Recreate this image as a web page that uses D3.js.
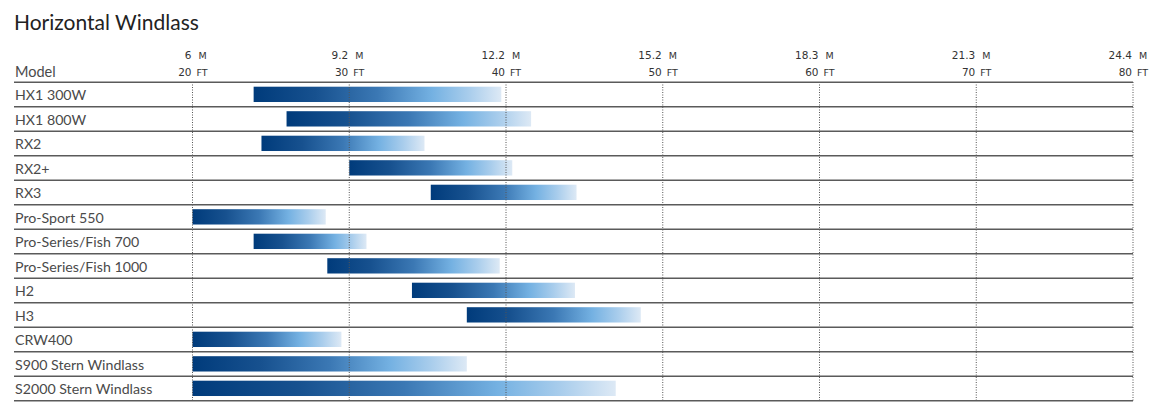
<!DOCTYPE html>
<html><head><meta charset="utf-8">
<script src="https://cdn.jsdelivr.net/npm/d3@7"></script>
<style>
html,body{margin:0;padding:0;background:#fff;}
svg{display:block;}
</style></head>
<body>
<script>
const title = "Horizontal Windlass";
const models = ["HX1 300W","HX1 800W","RX2","RX2+","RX3","Pro-Sport 550","Pro-Series/Fish 700","Pro-Series/Fish 1000","H2","H3","CRW400","S900 Stern Windlass","S2000 Stern Windlass"];
const rangeStartFt = [23.9, 26.0, 24.4, 30.0, 35.2, 20.0, 23.9, 28.6, 34.0, 37.5, 20.0, 20.0, 20.0];
const rangeEndFt   = [39.7, 41.6, 34.8, 40.4, 44.5, 28.5, 31.1, 39.6, 44.4, 48.6, 29.5, 37.5, 47.0];
const tickFt = [20, 30, 40, 50, 60, 70, 80];
const tickM = ["6", "9.2", "12.2", "15.2", "18.3", "21.3", "24.4"];

const W = 1164, H = 408;
const svg = d3.select("body").append("svg").attr("width", W).attr("height", H);

const x = d3.scaleLinear().domain([20, 80]).range([192.5, 1133]);
const y = d3.scaleBand().domain(models).range([82.3, 400.8]).padding(0);
const left = 14, right = 1133;

// gradient
const defs = svg.append("defs");
const grad = defs.append("linearGradient").attr("id","barGrad").attr("x1","0%").attr("x2","100%").attr("y1","0%").attr("y2","0%");
[[0,"#003b7b"],[0.25,"#17518f"],[0.5,"#3b78b4"],[0.72,"#74b1e2"],[0.87,"#a9cdec"],[1,"#dde9f5"]]
  .forEach(([o,c]) => grad.append("stop").attr("offset", o).attr("stop-color", c));

// title
svg.append("text").attr("x", 14).attr("y", 30).text(title)
  .attr("font-family","Lato, 'Open Sans', sans-serif").attr("font-size", 21).attr("fill","#222");

// header
svg.append("text").attr("x", 15).attr("y", 77).text("Model")
  .attr("font-family","Lato, sans-serif").attr("font-size", 14.5).attr("fill","#4a4a4a");

const hdr = svg.append("g");
const hf = "'DejaVu Sans', sans-serif";
tickFt.forEach((f, i) => {
  const xx = x(f);
  hdr.append("text").attr("x", xx - 1).attr("y", 59).attr("text-anchor","end").text(tickM[i])
    .attr("font-family", hf).attr("font-size", 10.5).attr("fill","#333");
  hdr.append("text").attr("x", xx + 6).attr("y", 59).text("M")
    .attr("font-family", hf).attr("font-size", 9.5).attr("fill","#333");
  hdr.append("text").attr("x", xx - 1).attr("y", 76).attr("text-anchor","end").text(f)
    .attr("font-family", hf).attr("font-size", 10.5).attr("fill","#333");
  hdr.append("text").attr("x", xx + 4).attr("y", 76).text("FT")
    .attr("font-family", hf).attr("font-size", 9.5).attr("fill","#333");
});

// bars
const bh = y.bandwidth() * 0.625;
svg.append("g").selectAll("rect").data(models).join("rect")
  .attr("x", (d, i) => x(rangeStartFt[i]))
  .attr("width", (d, i) => x(rangeEndFt[i]) - x(rangeStartFt[i]))
  .attr("y", d => y(d) + 4.4)
  .attr("height", bh)
  .attr("fill", "url(#barGrad)");

// vertical dotted gridlines
svg.append("g").selectAll("line").data(tickFt).join("line")
  .attr("x1", d => x(d)).attr("x2", d => x(d))
  .attr("y1", 82).attr("y2", 401)
  .attr("stroke", "#555").attr("stroke-width", 1).attr("stroke-dasharray", "1,1.5");

// horizontal row lines
const lineYs = [y.range()[0]].concat(models.map(m => y(m) + y.step()));
svg.append("g").selectAll("line").data(lineYs).join("line")
  .attr("x1", left).attr("x2", right)
  .attr("y1", d => d).attr("y2", d => d)
  .attr("stroke", "#5a5a5a").attr("stroke-width", 1.5);

// row labels
svg.append("g").selectAll("text").data(models).join("text")
  .attr("x", 15).attr("y", d => y(d) + y.bandwidth()/2 + 5.5)
  .text(d => d)
  .attr("font-family","Lato, sans-serif").attr("font-size", 14.2).attr("fill","#4a4a4a");
</script>
</body></html>
